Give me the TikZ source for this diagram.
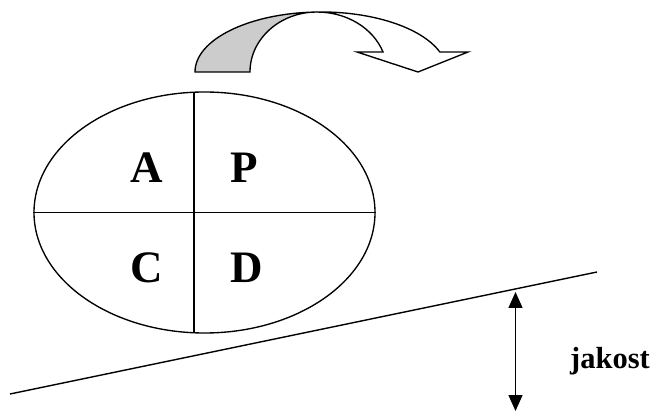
\documentclass[tikz,border=0pt]{standalone}
\usepackage{fontspec}
\setmainfont{Liberation Serif}
\usetikzlibrary{shapes.geometric,arrows.meta}
\definecolor{ribgrey}{HTML}{CCCCCC}
\begin{document}
\begin{tikzpicture}[x=1pt,y=1pt,
  outl/.style={line width=1.35pt, line join=miter},
  letter/.style={inner sep=0pt, font=\fontsize{45}{50}\selectfont\bfseries},
  lbl/.style={inner sep=0pt, font=\fontsize{30.5}{34}\selectfont\bfseries}]
\useasboundingbox (0,0) rectangle (658,412);
% curved arrow: grey back part
\fill[ribgrey] (195,340) arc[start angle=180, end angle=92, x radius=126, y radius=60]
  -- (317,400) arc[start angle=90, end angle=180, x radius=67, y radius=60] -- cycle;
\draw[outl] (195,340) arc[start angle=180, end angle=92, x radius=126, y radius=60]
  -- (317,400) arc[start angle=90, end angle=180, x radius=67, y radius=60] -- cycle;
% curved arrow: white front part with head
\draw[outl, fill=white] (316.6,400) arc[start angle=92, end angle=19.4, x radius=126, y radius=60]
  -- (468,360) -- (418,340) -- (357,360) -- (383,360)
  arc[start angle=19.5, end angle=90, x radius=70, y radius=60] -- cycle;
% PDCA ellipse
\node[ellipse, draw, outl, minimum width=341pt, minimum height=241pt, inner sep=0pt] (cyc) at (204.5,199.5) {};
\coordinate (vt) at (194,319.8);
\coordinate (vb) at (194,79.2);
\draw[outl] (cyc.west) -- (cyc.east);
\draw[outl] (vt) -- (vb);
\node[letter] (A) at (146.5,244) {A};
\node[letter] (P) at (244,244) {P};
\node[letter] (C) at (147,144.5) {C};
\node[letter] (D) at (246.3,144.5) {D};
% slope line
\coordinate (s1) at (10,18);
\coordinate (s2) at (597,140);
\draw[line width=1.4pt] (s1) -- (s2);
% quality arrow
\coordinate (q1) at (515.5,120);
\coordinate (q2) at (515.5,1);
\draw[line width=1.4pt, {Triangle[length=16pt,width=14pt]}-{Triangle[length=16pt,width=14pt]}] (q1) -- (q2);
\node[lbl, anchor=base west] (jak) at (570,43) {jakost};
\end{tikzpicture}
\end{document}
